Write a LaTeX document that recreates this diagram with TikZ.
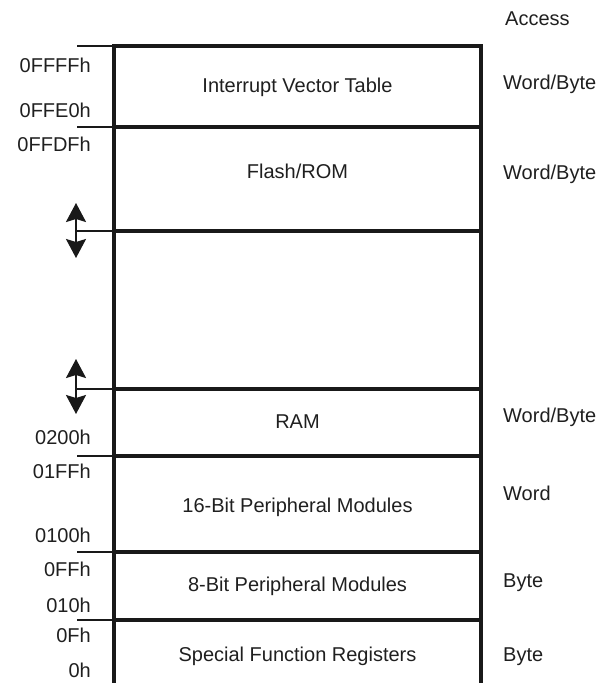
\documentclass[tikz,border=0pt]{standalone}
\usepackage{fontspec}
\setmainfont{Liberation Sans}
\usetikzlibrary{arrows.meta}
\begin{document}
\begin{tikzpicture}[x=1pt,y=-1pt,
  lbl/.style={inner sep=0pt,font=\fontsize{20}{24}\selectfont,text=black!88},
  addr/.style={lbl,anchor=base east},
  acc/.style={lbl,anchor=base west},
  region/.style={lbl,anchor=base},
  border/.style={line width=3.6pt,black!90},
  tick/.style={line width=1.3pt,black!90},
  dblarrow/.style={line width=2pt,black!90,{Stealth[length=19pt,width=20pt,inset=3pt]}-{Stealth[length=19pt,width=20pt,inset=3pt]}}
]
\useasboundingbox (0,0) rectangle (602,683);
% box corners and divider ends
\coordinate (tl) at (114,46);
\coordinate (tr) at (481,46);
\coordinate (bl) at (114,683);
\coordinate (br) at (481,683);
\foreach \n/\y in {a/127,b/231,c/389,d/456,e/552,f/620}{
  \coordinate (\n L) at (114,\y);
  \coordinate (\n R) at (481,\y);
}
% ticks
\coordinate (t0) at (77,46);
\coordinate (ta) at (77,127);
\coordinate (td) at (77,456);
\coordinate (te) at (77,552);
\coordinate (tf) at (77,620);
\draw[tick] (t0) -- (tl);
\draw[tick] (ta) -- (aL);
\draw[tick] (td) -- (dL);
\draw[tick] (te) -- (eL);
\draw[tick] (tf) -- (fL);
% double arrows
\coordinate (b1) at (76,203);
\coordinate (b2) at (76,258);
\coordinate (bm) at (76,231);
\coordinate (c1) at (76,359);
\coordinate (c2) at (76,414);
\coordinate (cm) at (76,389);
\draw[dblarrow] (b1) -- (b2);
\draw[dblarrow] (c1) -- (c2);
\draw[tick] (bm) -- (bL);
\draw[tick] (cm) -- (cL);
% box
\draw[border] (bl) -- (tl) -- (tr) -- (br);
\foreach \n in {a,b,c,d,e,f}{\draw[border] (\n L) -- (\n R);}
% region labels
\node[region] (ivt) at (297.5,92) {Interrupt Vector Table};
\node[region] (flash) at (297.5,178) {Flash/ROM};
\node[region] (ram) at (297.5,428) {RAM};
\node[region] (p16) at (297.5,512) {16-Bit Peripheral Modules};
\node[region] (p8) at (297.5,591) {8-Bit Peripheral Modules};
\node[region] (sfr) at (297.5,661) {Special Function Registers};
% addresses
\node[addr] (a1) at (91,72) {0FFFFh};
\node[addr] (a2) at (91,117) {0FFE0h};
\node[addr] (a3) at (91,151) {0FFDFh};
\node[addr] (a4) at (91,444) {0200h};
\node[addr] (a5) at (91,478) {01FFh};
\node[addr] (a6) at (91,542) {0100h};
\node[addr] (a7) at (91,576) {0FFh};
\node[addr] (a8) at (91,612) {010h};
\node[addr] (a9) at (91,642) {0Fh};
\node[addr] (a10) at (91,677) {0h};
% access
\node[acc] (hdr) at (505,25) {Access};
\node[acc] (w1) at (503,89) {Word/Byte};
\node[acc] (w2) at (503,179) {Word/Byte};
\node[acc] (w3) at (503,422) {Word/Byte};
\node[acc] (w4) at (503,500) {Word};
\node[acc] (w5) at (503,587) {Byte};
\node[acc] (w6) at (503,661) {Byte};
\end{tikzpicture}
\end{document}
